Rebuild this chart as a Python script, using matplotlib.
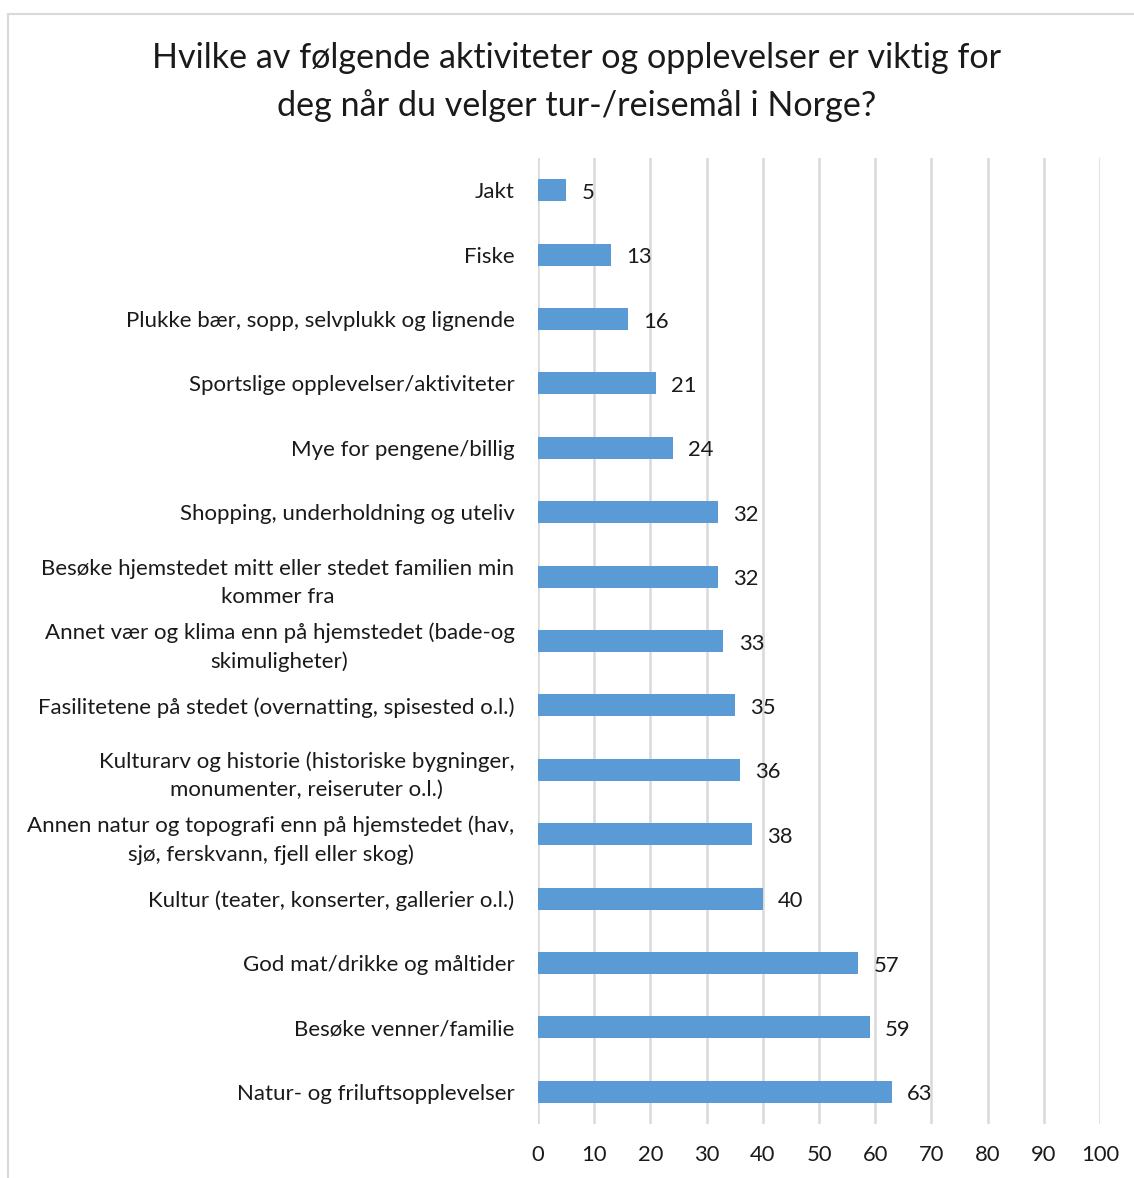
import matplotlib
matplotlib.use("Agg")
import matplotlib.pyplot as plt
from matplotlib.lines import Line2D

plt.rcParams['font.family'] = ['Lato', 'DejaVu Sans']

categories = [
    "Jakt",
    "Fiske",
    "Plukke bær, sopp, selvplukk og lignende",
    "Sportslige opplevelser/aktiviteter",
    "Mye for pengene/billig",
    "Shopping, underholdning og uteliv",
    "Besøke hjemstedet mitt eller stedet familien min\nkommer fra",
    "Annet vær og klima enn på hjemstedet (bade-og\nskimuligheter)",
    "Fasilitetene på stedet (overnatting, spisested o.l.)",
    "Kulturarv og historie (historiske bygninger,\nmonumenter, reiseruter o.l.)",
    "Annen natur og topografi enn på hjemstedet (hav,\nsjø, ferskvann, fjell eller skog)",
    "Kultur (teater, konserter, gallerier o.l.)",
    "God mat/drikke og måltider",
    "Besøke venner/familie",
    "Natur- og friluftsopplevelser",
]
values = [5, 13, 16, 21, 24, 32, 32, 33, 35, 36, 38, 40, 57, 59, 63]
xticks = [0, 10, 20, 30, 40, 50, 60, 70, 80, 90, 100]
title = "Hvilke av følgende aktiviteter og opplevelser er viktig for\ndeg når du velger tur-/reisemål i Norge?"

W, H = 1134, 1178
fig = plt.figure(figsize=(W / 100, H / 100), dpi=100)
fig.patch.set_facecolor('white')

# chart frame (partially cropped)
fig.add_artist(Line2D([8 / W, 8 / W], [0, 1 - 14 / H], transform=fig.transFigure, color='#D9D9D9', lw=1.5))
fig.add_artist(Line2D([8 / W, 1], [1 - 14 / H, 1 - 14 / H], transform=fig.transFigure, color='#D9D9D9', lw=1.5))

ax = fig.add_axes([538 / W, 1 - 1124 / H, (1100 - 538) / W, (1124 - 158) / H])
ypos = list(range(len(categories)))
ax.barh(ypos, values, height=0.34, color='#5B9BD5', zorder=3)
ax.set_ylim(len(categories) - 0.5, -0.5)
ax.set_xlim(0, 100)
ax.set_xticks(xticks)
ax.set_xticklabels([str(t) for t in xticks])
ax.set_yticks(ypos)
ax.set_yticklabels(categories)
for lbl in ax.get_yticklabels():
    lbl.set_multialignment('center')
    lbl.set_linespacing(1.5)
ax.tick_params(axis='y', length=0, pad=17, labelsize=16.0, labelcolor='#1a1a1a')
ax.tick_params(axis='x', length=0, pad=15, labelsize=15.8, labelcolor='#1a1a1a')
ax.grid(axis='x', color='#D9D9D9', lw=1.8, zorder=0)
for s in ax.spines.values():
    s.set_visible(False)

for y, v in zip(ypos, values):
    ax.text(v + 2.7, y + 0.04, str(v), va='center', ha='left', fontsize=15.8, color='#1a1a1a')

fig.text(577 / W, 1 - 82 / H, title, ha='center', va='center', fontsize=24.6,
         color='#1a1a1a', linespacing=1.55)

fig.savefig('out.png', dpi=100, facecolor='white')
